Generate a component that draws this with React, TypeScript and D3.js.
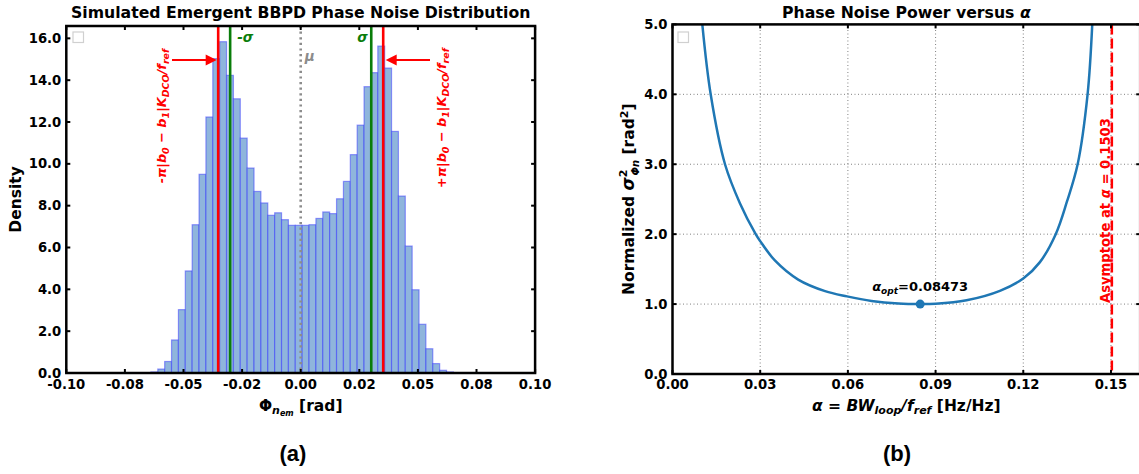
import React from 'react';
import * as d3 from 'd3';

// ---------- Data: histogram (a) ----------
const HIST_START = -0.0639;
const HIST_BIN = 0.002933;
const HIST_DENSITY = [
  0.05, 0.19, 0.55, 1.58, 3.03, 4.88, 7.09, 9.5, 12.24, 15.03, 15.84, 14.23, 13.11, 11.23, 9.8, 8.68, 8.13, 7.54, 7.66, 7.33, 7.06, 7.06,
  7.06, 7.09, 7.39, 7.7, 7.62, 8.33, 9.16, 10.44, 11.85, 13.69, 14.36, 15.63, 14.58, 11.55, 8.46, 6.07, 3.98, 2.33, 1.16, 0.45, 0.13, 0.05,
];
const SIGMA = 0.0301;
const BOUND = 0.0352;
const MU = 0;
const LEFT_X_TICKS = [-0.1, -0.075, -0.05, -0.025, 0, 0.025, 0.05, 0.075, 0.1];
const LEFT_X_LABELS = ['-0.10', '-0.08', '-0.05', '-0.02', '0.00', '0.02', '0.05', '0.08', '0.10'];
const LEFT_Y_TICKS = [0, 2, 4, 6, 8, 10, 12, 14, 16];
const LEFT_Y_LABELS = ['0.0', '2.0', '4.0', '6.0', '8.0', '10.0', '12.0', '14.0', '16.0'];

// ---------- Data: curve (b) ----------
const ALPHA = [0.0102, 0.01306, 0.01796, 0.0231, 0.02846, 0.03, 0.0351, 0.043, 0.0522, 0.0597, 0.0681, 0.0773, 0.0847, 0.09, 0.1006, 0.112, 0.1201, 0.1257, 0.1311, 0.1349, 0.1386, 0.142, 0.1436];
const NOISE = [5.0, 4.0, 3.0, 2.44, 2.0, 1.9, 1.62, 1.35, 1.185, 1.11, 1.045, 1.008, 1.0, 1.005, 1.055, 1.19, 1.37, 1.6, 2.0, 2.46, 3.0, 4.0, 5.0];
const ALPHA_OPT = 0.08473;
const NOISE_OPT = 1.0;
const ALPHA_ASYM = 0.1503;
const RIGHT_X_TICKS = [0, 0.03, 0.06, 0.09, 0.12, 0.15];
const RIGHT_X_LABELS = ['0.00', '0.03', '0.06', '0.09', '0.12', '0.15'];
const RIGHT_Y_TICKS = [0, 1, 2, 3, 4, 5];
const RIGHT_Y_LABELS = ['0.0', '1.0', '2.0', '3.0', '4.0', '5.0'];

const FONT = 'DejaVu Sans, sans-serif';
const TICK_FS = 13.2;
const TITLE_FS = 15.7;
const LABEL_FS = 15.5;

export default function App() {
  // Left panel scales
  const L = { x0: 66.3, x1: 535.1, y0: 373, y1: 26 };
  const lx = d3.scaleLinear().domain([-0.1, 0.1]).range([L.x0, L.x1]);
  const ly = d3.scaleLinear().domain([0, 16.59]).range([L.y0, L.y1]);

  // Right panel scales
  const R = { x0: 672.5, x1: 1140.2, y0: 374, y1: 24.4 };
  const rx = d3.scaleLinear().domain([0, 0.16]).range([R.x0, R.x1]);
  const ry = d3.scaleLinear().domain([0, 5]).range([R.y0, R.y1]);

  const line = d3
    .line<number>()
    .x((_, i) => rx(ALPHA[i]))
    .y((d) => ry(d))
    .curve(d3.curveCatmullRom.alpha(0.5));

  const tickLen = 4;

  const arrowHead = (tipX: number, y: number, dir: number) => {
    const l = 11, h = 5.5;
    return `M${tipX},${y} L${tipX - dir * l},${y - h} L${tipX - dir * l},${y + h} Z`;
  };

  const redLabel = (sign: string) => (
    <>
      <tspan>{sign}π|b</tspan>
      <tspan fontSize={9.5} dy={3}>0</tspan>
      <tspan dy={-3}> − b</tspan>
      <tspan fontSize={9.5} dy={3}>1</tspan>
      <tspan dy={-3}>|K</tspan>
      <tspan fontSize={9.5} dy={3}>DCO</tspan>
      <tspan dy={-3}>/f</tspan>
      <tspan fontSize={9.5} dy={3}>ref</tspan>
    </>
  );

  return (
    <svg width={1139} height={474} style={{ position: 'absolute', left: 0, top: 0, background: '#fff' }} fontFamily={FONT}>
      <defs>
        <clipPath id="clipR">
          <rect x={R.x0} y={R.y1} width={R.x1 - R.x0} height={R.y0 - R.y1} />
        </clipPath>
        <clipPath id="clipL">
          <rect x={L.x0} y={L.y1} width={L.x1 - L.x0} height={L.y0 - L.y1} />
        </clipPath>
      </defs>

      {/* ================= LEFT PANEL ================= */}
      <text x={(L.x0 + L.x1) / 2} y={18} textAnchor="middle" fontWeight="bold" fontSize={TITLE_FS}>
        Simulated Emergent BBPD Phase Noise Distribution
      </text>

      <g clipPath="url(#clipL)">
        {HIST_DENSITY.map((d, i) => {
          const a = HIST_START + i * HIST_BIN;
          const b = a + HIST_BIN;
          return (
            <rect
              key={i}
              x={lx(a)}
              y={ly(d)}
              width={lx(b) - lx(a)}
              height={ly(0) - ly(d)}
              fill="#8fb5dc"
              stroke="rgba(40,40,255,0.45)"
              strokeWidth={1.2}
            />
          );
        })}
        <line x1={lx(-SIGMA)} x2={lx(-SIGMA)} y1={L.y1} y2={L.y0} stroke="#0a7d0a" strokeWidth={2.6} />
        <line x1={lx(SIGMA)} x2={lx(SIGMA)} y1={L.y1} y2={L.y0} stroke="#0a7d0a" strokeWidth={2.6} />
        <line x1={lx(-BOUND)} x2={lx(-BOUND)} y1={L.y1} y2={L.y0} stroke="#ff0000" strokeWidth={2.6} />
        <line x1={lx(BOUND)} x2={lx(BOUND)} y1={L.y1} y2={L.y0} stroke="#ff0000" strokeWidth={2.6} />
        <line x1={lx(MU)} x2={lx(MU)} y1={L.y1} y2={L.y0} stroke="#8c8c8c" strokeWidth={2.6} strokeDasharray="2.2,3.4" />
      </g>

      <text x={lx(-SIGMA) + 7} y={42} fill="#0a7d0a" fontWeight="bold" fontStyle="italic" fontSize={13.5}>-σ</text>
      <text x={lx(SIGMA) - 14} y={42} fill="#0a7d0a" fontWeight="bold" fontStyle="italic" fontSize={13.5}>σ</text>
      <text x={lx(MU) + 4} y={61} fill="#8c8c8c" fontWeight="bold" fontStyle="italic" fontSize={13.5}>μ</text>

      <line x1={172} x2={206} y1={60} y2={60} stroke="#ff0000" strokeWidth={2} />
      <path d={arrowHead(lx(-BOUND) - 1.5, 60, 1)} fill="#ff0000" />
      <line x1={430} x2={396} y1={60} y2={60} stroke="#ff0000" strokeWidth={2} />
      <path d={arrowHead(lx(BOUND) + 2.5, 60, -1)} fill="#ff0000" />

      <text transform={`translate(166,116) rotate(-90)`} textAnchor="middle" fill="#ff0000" fontWeight="bold" fontStyle="italic" fontSize={12.8}>
        {redLabel('-')}
      </text>
      <text transform={`translate(446,118) rotate(-90)`} textAnchor="middle" fill="#ff0000" fontWeight="bold" fontStyle="italic" fontSize={12.8}>
        {redLabel('+')}
      </text>

      <rect x={73} y={32} width={10.5} height={10.5} fill="#fff" stroke="#d0d0d0" strokeWidth={1.2} />

      <rect x={L.x0} y={L.y1} width={L.x1 - L.x0} height={L.y0 - L.y1} fill="none" stroke="#000" strokeWidth={2.5} />

      {LEFT_X_TICKS.map((t, i) => (
        <g key={'lxt' + i}>
          <line x1={lx(t)} x2={lx(t)} y1={L.y0} y2={L.y0 - tickLen} stroke="#000" strokeWidth={2} />
          <line x1={lx(t)} x2={lx(t)} y1={L.y1} y2={L.y1 + tickLen} stroke="#000" strokeWidth={2} />
          <text x={lx(t)} y={L.y0 + 16} textAnchor="middle" fontWeight="bold" fontSize={TICK_FS}>
            {LEFT_X_LABELS[i]}
          </text>
        </g>
      ))}
      {LEFT_Y_TICKS.map((t, i) => (
        <g key={'lyt' + i}>
          <line x1={L.x0} x2={L.x0 + tickLen} y1={ly(t)} y2={ly(t)} stroke="#000" strokeWidth={2} />
          <line x1={L.x1} x2={L.x1 - tickLen} y1={ly(t)} y2={ly(t)} stroke="#000" strokeWidth={2} />
          <text x={L.x0 - 5} y={ly(t) + 4.5} textAnchor="end" fontWeight="bold" fontSize={TICK_FS}>
            {LEFT_Y_LABELS[i]}
          </text>
        </g>
      ))}

      <text x={(L.x0 + L.x1) / 2} y={411} textAnchor="middle" fontWeight="bold" fontSize={LABEL_FS}>
        <tspan>Φ</tspan>
        <tspan fontStyle="italic" fontSize={11} dy={3}>n</tspan>
        <tspan fontStyle="italic" fontSize={8} dy={2}>em</tspan>
        <tspan dy={-5}> [rad]</tspan>
      </text>
      <text transform={`translate(21,${(L.y0 + L.y1) / 2}) rotate(-90)`} textAnchor="middle" fontWeight="bold" fontSize={LABEL_FS}>
        Density
      </text>

      <text x={293} y={461} textAnchor="middle" fontWeight="bold" fontSize={22} fontFamily="Liberation Sans, Arial, sans-serif">
        (a)
      </text>

      {/* ================= RIGHT PANEL ================= */}
      <text x={(R.x0 + R.x1) / 2} y={18} textAnchor="middle" fontWeight="bold" fontSize={TITLE_FS}>
        <tspan>Phase Noise Power versus </tspan>
        <tspan fontStyle="italic">α</tspan>
      </text>

      {RIGHT_X_TICKS.map((t, i) => (
        <line key={'gx' + i} x1={rx(t)} x2={rx(t)} y1={R.y0} y2={R.y1} stroke="#808080" strokeWidth={1} strokeDasharray="1,2.5" />
      ))}
      {RIGHT_Y_TICKS.map((t, i) => (
        <line key={'gy' + i} x1={R.x0} x2={R.x1} y1={ry(t)} y2={ry(t)} stroke="#808080" strokeWidth={1} strokeDasharray="1,2.5" />
      ))}

      <g clipPath="url(#clipR)">
        <path d={line(NOISE) || ''} fill="none" stroke="#1f77b4" strokeWidth={2.5} />
        <line x1={rx(ALPHA_ASYM)} x2={rx(ALPHA_ASYM)} y1={R.y1} y2={R.y0} stroke="#ff0000" strokeWidth={2.5} strokeDasharray="10,4" />
      </g>
      <circle cx={rx(ALPHA_OPT)} cy={ry(NOISE_OPT)} r={4.5} fill="#1f77b4" />
      <text x={rx(ALPHA_OPT)} y={ry(NOISE_OPT) - 13} textAnchor="middle" fontWeight="bold" fontSize={13}>
        <tspan fontStyle="italic">α</tspan>
        <tspan fontStyle="italic" fontSize={9} dy={3}>opt</tspan>
        <tspan dy={-3}>=0.08473</tspan>
      </text>
      <text transform={`translate(${rx(ALPHA_ASYM) - 1.5},${ry(NOISE_OPT) - 1}) rotate(-90)`} textAnchor="start" fill="#ff0000" fontWeight="bold" fontSize={13.2}>
        <tspan>Asymptote at </tspan>
        <tspan fontStyle="italic">α</tspan>
        <tspan> = 0.1503</tspan>
      </text>

      <rect x={678} y={32} width={10.5} height={10.5} fill="#fff" stroke="#d0d0d0" strokeWidth={1.2} />

      <rect x={R.x0} y={R.y1} width={R.x1 - R.x0} height={R.y0 - R.y1} fill="none" stroke="#000" strokeWidth={2.5} />

      {RIGHT_X_TICKS.map((t, i) => (
        <g key={'rxt' + i}>
          <line x1={rx(t)} x2={rx(t)} y1={R.y0} y2={R.y0 - tickLen} stroke="#000" strokeWidth={2} />
          <line x1={rx(t)} x2={rx(t)} y1={R.y1} y2={R.y1 + tickLen} stroke="#000" strokeWidth={2} />
          <text x={rx(t)} y={R.y0 + 15} textAnchor="middle" fontWeight="bold" fontSize={TICK_FS}>
            {RIGHT_X_LABELS[i]}
          </text>
        </g>
      ))}
      {RIGHT_Y_TICKS.map((t, i) => (
        <g key={'ryt' + i}>
          <line x1={R.x0} x2={R.x0 + tickLen} y1={ry(t)} y2={ry(t)} stroke="#000" strokeWidth={2} />
          <line x1={R.x1} x2={R.x1 - tickLen} y1={ry(t)} y2={ry(t)} stroke="#000" strokeWidth={2} />
          <text x={R.x0 - 5} y={ry(t) + 4.5} textAnchor="end" fontWeight="bold" fontSize={TICK_FS}>
            {RIGHT_Y_LABELS[i]}
          </text>
        </g>
      ))}

      <text x={(R.x0 + R.x1) / 2} y={411} textAnchor="middle" fontWeight="bold" fontSize={LABEL_FS}>
        <tspan fontStyle="italic">α</tspan>
        <tspan> = </tspan>
        <tspan fontStyle="italic">BW</tspan>
        <tspan fontStyle="italic" fontSize={11} dy={3}>loop</tspan>
        <tspan fontStyle="italic" dy={-3}>/f</tspan>
        <tspan fontStyle="italic" fontSize={11} dy={3}>ref</tspan>
        <tspan dy={-3}> [Hz/Hz]</tspan>
      </text>
      <text transform={`translate(634,${(R.y0 + R.y1) / 2}) rotate(-90)`} textAnchor="middle" fontWeight="bold" fontSize={LABEL_FS}>
        <tspan>Normalized </tspan>
        <tspan fontStyle="italic" fontSize={17}>σ</tspan>
        <tspan fontSize={11} dy={-7}>2</tspan>
        <tspan fontSize={10} fontStyle="italic" dx={-6} dy={12}>Φn</tspan>
        <tspan dy={-5}> [rad</tspan>
        <tspan fontSize={11} dy={-6}>2</tspan>
        <tspan dy={6}>]</tspan>
      </text>

      <text x={897} y={461} textAnchor="middle" fontWeight="bold" fontSize={22} fontFamily="Liberation Sans, Arial, sans-serif">
        (b)
      </text>
    </svg>
  );
}
